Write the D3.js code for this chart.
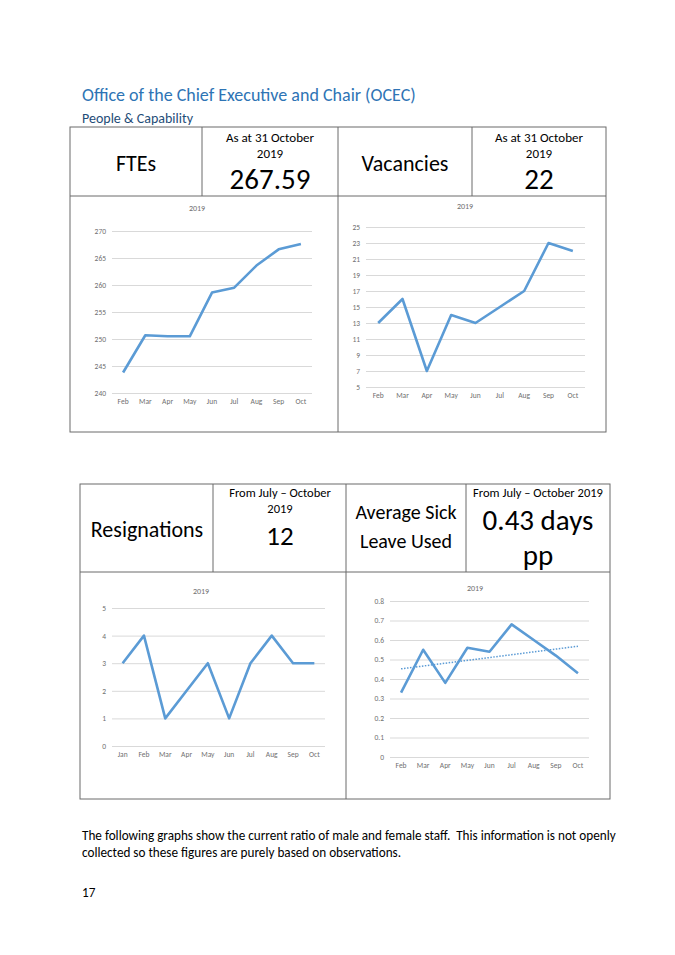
<!DOCTYPE html>
<html>
<head>
<meta charset="utf-8">
<script src="https://cdn.jsdelivr.net/npm/d3@7"></script>
<style>
  body { margin: 0; background: #fff; }
  svg text { font-family: Calibri, Carlito, Lato, "Noto Sans", sans-serif; font-weight: 300; white-space: pre; }
  .cell { fill: none; stroke: #6b6b6b; stroke-width: 1; }
  .tick line { stroke: #d9d9d9; }
  .tick text { fill: #6f6f6f; font-size: 7.5px; font-weight: 400; }
  .ctitle { fill: #6f6f6f; font-size: 8px; font-weight: 400; }
</style>
</head>
<body>
<div id="vis"></div>
<script>
// Data
var ftesMonths = ['Feb', 'Mar', 'Apr', 'May', 'Jun', 'Jul', 'Aug', 'Sep', 'Oct'];
var ftesValues = [243.8, 250.7, 250.5, 250.5, 258.6, 259.5, 263.6, 266.6, 267.59];
var ftesTicks = [240, 245, 250, 255, 260, 265, 270];

var vacancyMonths = ['Feb', 'Mar', 'Apr', 'May', 'Jun', 'Jul', 'Aug', 'Sep', 'Oct'];
var vacancyValues = [13, 16, 7, 14, 13, 15, 17, 23, 22];
var vacancyTicks = [5, 7, 9, 11, 13, 15, 17, 19, 21, 23, 25];

var resignMonths = ['Jan', 'Feb', 'Mar', 'Apr', 'May', 'Jun', 'Jul', 'Aug', 'Sep', 'Oct'];
var resignValues = [3, 4, 1, 2, 3, 1, 3, 4, 3, 3];
var resignTicks = [0, 1, 2, 3, 4, 5];

var sickMonths = ['Feb', 'Mar', 'Apr', 'May', 'Jun', 'Jul', 'Aug', 'Sep', 'Oct'];
var sickValues = [0.33, 0.55, 0.38, 0.56, 0.54, 0.68, 0.60, 0.52, 0.43];
var sickTicks = [0, 0.1, 0.2, 0.3, 0.4, 0.5, 0.6, 0.7, 0.8];

var lineColor = '#5b9bd5';

var svg = d3.select('#vis').append('svg')
    .attr('width', 675)
    .attr('height', 955);

svg.append('rect').attr('width', 675).attr('height', 955).attr('fill', '#fff');

/* ---------- headings ---------- */
svg.append('text')
    .attr('x', 82).attr('y', 101)
    .attr('fill', '#2e74b5')
    .style('font-size', '18px')
    .text('Office of the Chief Executive and Chair (OCEC)');

svg.append('text')
    .attr('x', 82).attr('y', 123)
    .attr('fill', '#1f4d78')
    .style('font-size', '14px')
    .text('People & Capability');

/* ---------- table helper ---------- */
var drawTable = function(cols, rows) {
    var t = svg.append('g');
    t.append('rect').attr('class', 'cell')
        .attr('x', cols[0]).attr('y', rows[0])
        .attr('width', cols[4] - cols[0]).attr('height', rows[2] - rows[0]);
    t.append('line').attr('class', 'cell')
        .attr('x1', cols[0]).attr('x2', cols[4]).attr('y1', rows[1]).attr('y2', rows[1]);
    [1, 3].forEach(function(i) {
        t.append('line').attr('class', 'cell')
            .attr('x1', cols[i]).attr('x2', cols[i]).attr('y1', rows[0]).attr('y2', rows[1]);
    });
    t.append('line').attr('class', 'cell')
        .attr('x1', cols[2]).attr('x2', cols[2]).attr('y1', rows[0]).attr('y2', rows[2]);
};

var label = function(x, y, str, size) {
    svg.append('text')
        .attr('x', x).attr('y', y)
        .attr('text-anchor', 'middle')
        .attr('dominant-baseline', 'central')
        .attr('fill', '#000')
        .style('font-size', size + 'px')
        .text(str);
};

/* ---------- table 1 ---------- */
var cols1 = [70, 202, 338, 472, 606];
var rows1 = [127, 196, 432];
drawTable(cols1, rows1);
label(136, 163, 'FTEs', 22);
label(270, 137, 'As at 31 October', 13);
label(270, 153, '2019', 13);
label(270, 179, '267.59', 29);
label(405, 163, 'Vacancies', 22);
label(539, 137, 'As at 31 October', 13);
label(539, 153, '2019', 13);
label(539, 179, '22', 29);

/* ---------- table 2 ---------- */
var cols2 = [80, 213, 346, 466, 610];
var rows2 = [484, 572, 799];
drawTable(cols2, rows2);
label(147, 529, 'Resignations', 22);
label(280, 492, 'From July \u2013 October', 12.5);
label(280, 508, '2019', 12.5);
label(280, 535, '12', 27);
label(406, 512, 'Average Sick', 20);
label(406, 541, 'Leave Used', 20);
label(538, 492, 'From July \u2013 October 2019', 12.5);
label(538, 520, '0.43 days', 29);
label(538, 555, 'pp', 29);

/* ---------- chart helper ---------- */
var drawChart = function(cfg) {
    var xScale = d3.scaleBand().domain(cfg.months).range([cfg.left, cfg.right]);
    var yScale = d3.scaleLinear().domain(d3.extent(cfg.ticks)).range([cfg.bottom, cfg.top]);
    var g = svg.append('g');

    // gridlines + y labels
    var yAxis = d3.axisLeft(yScale)
        .tickValues(cfg.ticks)
        .tickSize(-(cfg.right - cfg.left))
        .tickPadding(6)
        .tickFormat(cfg.format || d3.format('d'));
    g.append('g')
        .attr('transform', 'translate(' + cfg.left + ',0)')
        .call(yAxis)
        .call(function(a) { a.select('.domain').remove(); });

    // x labels
    var xAxis = d3.axisBottom(xScale).tickSize(0).tickPadding(6);
    g.append('g')
        .attr('transform', 'translate(0,' + cfg.bottom + ')')
        .call(xAxis)
        .call(function(a) { a.select('.domain').remove(); });

    g.append('text').attr('class', 'ctitle')
        .attr('x', cfg.titleX).attr('y', cfg.titleY)
        .attr('text-anchor', 'middle')
        .attr('dominant-baseline', 'central')
        .text('2019');

    var line = d3.line()
        .x(function(d, i) { return xScale(cfg.months[i]) + xScale.bandwidth() / 2; })
        .y(function(d) { return yScale(d); });

    if (cfg.trend) {
        // linear trendline, as Excel computes it
        var n = cfg.values.length;
        var mx = (n - 1) / 2;
        var my = d3.mean(cfg.values);
        var sxy = d3.sum(cfg.values, function(d, i) { return (i - mx) * (d - my); });
        var sxx = d3.sum(cfg.values, function(d, i) { return (i - mx) * (i - mx); });
        var slope = sxy / sxx;
        g.append('line')
            .attr('x1', xScale(cfg.months[0]) + xScale.bandwidth() / 2)
            .attr('x2', xScale(cfg.months[n - 1]) + xScale.bandwidth() / 2)
            .attr('y1', yScale(my + slope * (0 - mx)))
            .attr('y2', yScale(my + slope * (n - 1 - mx)))
            .attr('stroke', lineColor)
            .attr('stroke-width', 1.5)
            .attr('stroke-dasharray', '1.5,1.5');
    }

    g.append('path')
        .datum(cfg.values)
        .attr('d', line)
        .attr('fill', 'none')
        .attr('stroke', lineColor)
        .attr('stroke-width', 2.6)
        .attr('stroke-linejoin', 'round');
};

drawChart({
    months: ftesMonths, values: ftesValues, ticks: ftesTicks,
    left: 112, right: 312, top: 231, bottom: 393,
    titleX: 197, titleY: 208
});

drawChart({
    months: vacancyMonths, values: vacancyValues, ticks: vacancyTicks,
    left: 366, right: 585, top: 227, bottom: 387,
    titleX: 465, titleY: 206
});

drawChart({
    months: resignMonths, values: resignValues, ticks: resignTicks,
    left: 112, right: 325, top: 608, bottom: 746,
    titleX: 201, titleY: 591
});

drawChart({
    months: sickMonths, values: sickValues, ticks: sickTicks,
    left: 390, right: 589, top: 601, bottom: 757,
    titleX: 475, titleY: 588, trend: true,
    format: function(d) { return d === 0 ? '0' : d.toFixed(1); }
});

/* ---------- body text ---------- */
svg.append('text')
    .attr('x', 82).attr('y', 840)
    .style('font-size', '13.2px')
    .text('The following graphs show the current ratio of male and female staff.  This information is not openly');
svg.append('text')
    .attr('x', 82).attr('y', 857)
    .style('font-size', '13.2px')
    .text('collected so these figures are purely based on observations.');
svg.append('text')
    .attr('x', 82).attr('y', 897)
    .style('font-size', '13.2px')
    .text('17');
</script>
</body>
</html>
